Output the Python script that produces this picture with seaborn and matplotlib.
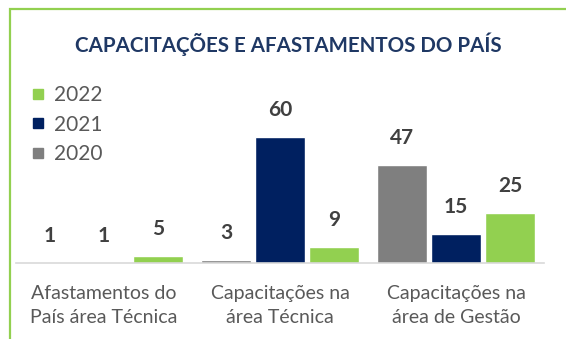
import matplotlib
matplotlib.use("Agg")
import matplotlib.pyplot as plt
import matplotlib.patches as mpatches
from matplotlib.lines import Line2D
import seaborn as sns
import pandas as pd

categories = ["Afastamentos do\nPaís área Técnica",
              "Capacitações na\nárea Técnica",
              "Capacitações na\nárea de Gestão"]
years = ["2020", "2021", "2022"]
values_2020 = [1, 3, 47]
values_2021 = [1, 60, 15]
values_2022 = [5, 9, 25]
title = "CAPACITAÇÕES E AFASTAMENTOS DO PAÍS"

colors = {"2020": "#7f7f7f", "2021": "#002060", "2022": "#92d050"}

df = pd.DataFrame({
    "categoria": categories * 3,
    "ano": [y for y in years for _ in categories],
    "valor": values_2020 + values_2021 + values_2022,
})

sns.set_theme(style="white")
plt.rcParams["font.family"] = ["Lato", "DejaVu Sans"]

W, H = 566, 339
fig = plt.figure(figsize=(W / 100, H / 100), dpi=100)

# axis geometry in pixels
x0, x1 = 16, 544
base_px = 263
ymin, ymax = 1.7, 70
px_per_unit = 2.16
top_px = base_px - (ymax - ymin) * px_per_unit
ax = fig.add_axes([x0 / W, (H - base_px) / H, (x1 - x0) / W, (base_px - top_px) / H])

sns.barplot(data=df, x="categoria", y="valor", hue="ano", hue_order=years,
            palette=colors, width=0.92, gap=0.09, saturation=1,
            legend=False, ax=ax)

ax.set_ylim(ymin, ymax)
ax.set_xlim(-0.5, 2.5)
ax.set_xlabel("")
ax.set_ylabel("")
ax.set_yticks([])
for s in ["left", "right", "top"]:
    ax.spines[s].set_visible(False)
ax.spines["bottom"].set_color("#d9d9d9")
ax.spines["bottom"].set_linewidth(1.2)

ax.tick_params(axis="x", which="major", length=0, pad=16, labelsize=14,
               labelcolor="#595959")
for lbl in ax.get_xticklabels():
    lbl.set_linespacing(1.45)
ax.set_xticks([-0.5, 0.5, 1.5, 2.5], minor=True)
ax.tick_params(axis="x", which="minor", length=5, width=1.2, color="#d9d9d9")

# value labels above each bar
series = [values_2020, values_2021, values_2022]
for cont, vals in zip(ax.containers, series):
    for patch, v in zip(cont.patches, vals):
        xc = patch.get_x() + patch.get_width() / 2
        ax.annotate(str(v), xy=(xc, max(v, ymin)), xytext=(0, 19.5),
                    textcoords="offset points", ha="center", va="center",
                    fontsize=15, fontweight="bold", color="#404040",
                    annotation_clip=False)

# legend (newest year first)
handles = [Line2D([], [], marker="s", linestyle="none", markersize=6.5,
                  markerfacecolor=colors[y], markeredgecolor=colors[y])
           for y in reversed(years)]
fig.legend(handles, list(reversed(years)), loc="upper left",
           bbox_to_anchor=(20 / W, 1 - 75 / H), frameon=False,
           fontsize=15, labelcolor="#595959", handlelength=0.7,
           handletextpad=0.45, labelspacing=0.45, borderpad=0)

fig.text(288 / W, 1 - 44 / H, title, ha="center", va="center",
         fontsize=14.8, fontweight="bold", color="#1f3864")

# outer frame
fig.patches.append(mpatches.Rectangle((10 / W, -0.1), 1.2, 1 - 9 / H + 0.1,
                                      transform=fig.transFigure, fill=False,
                                      edgecolor="#92d050", linewidth=1.6))

fig.savefig("out.png", dpi=100)
